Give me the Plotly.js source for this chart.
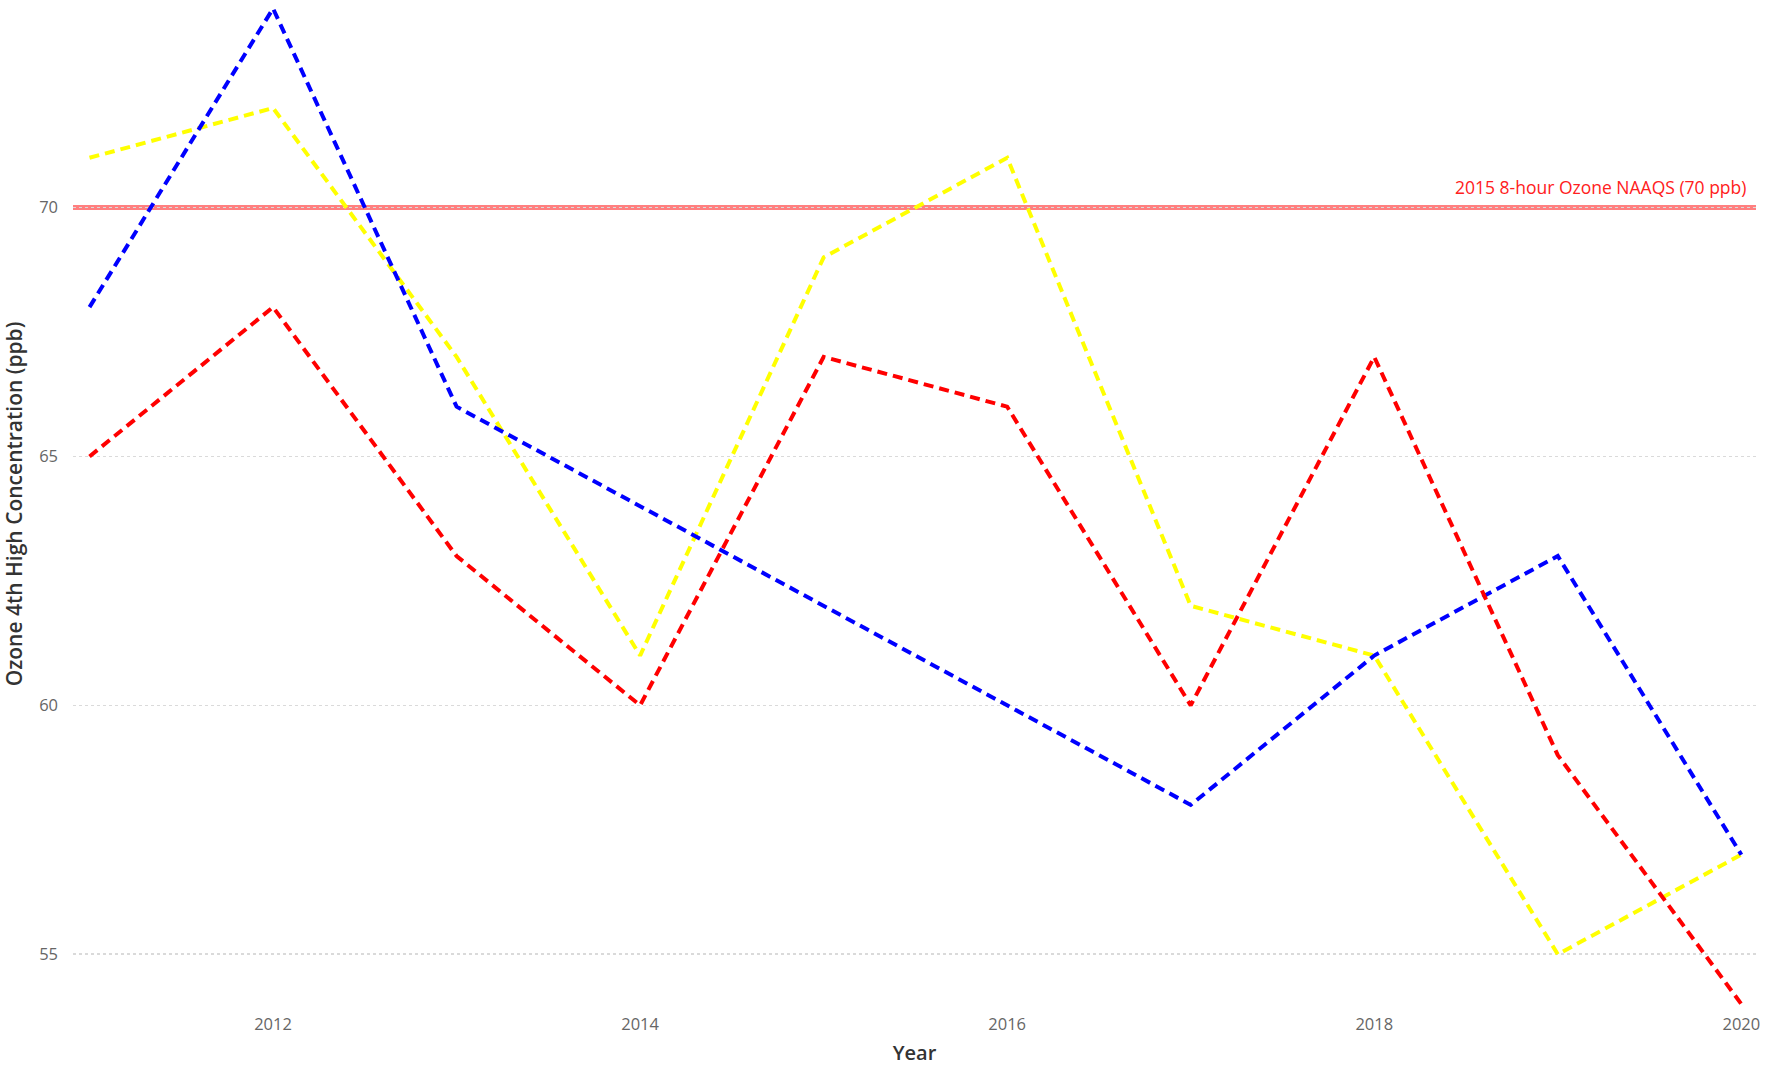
<!DOCTYPE html>
<html><head><meta charset="utf-8">
<script src="https://cdn.plot.ly/plotly-3.0.1.min.js"></script>
<style>html,body{margin:0;padding:0;background:#fff;}#chart{width:1781px;height:1066px;}</style>
</head><body><div id="chart"></div>
<script>
var years = [2011, 2012, 2013, 2014, 2015, 2016, 2017, 2018, 2019, 2020];
var yellowSeries = [71, 72, 67, 61, 69, 71, 62, 61, 55, 57];
var blueSeries = [68, 74, 66, 64, 62, 60, 58, 61, 63, 57];
var redSeries = [65, 68, 63, 60, 67, 66, 60, 67, 59, 54];
var standardValue = 70;
var standardLabel = '2015 8-hour Ozone NAAQS (70 ppb)';
var xTitle = 'Year';
var yTitle = 'Ozone 4th High Concentration (ppb)';

function mk(y, color, name) {
  return {x: years, y: y, type: 'scatter', mode: 'lines', name: name,
    line: {color: color, width: 4, dash: '10px,6px'}, hoverinfo: 'x+y'};
}
var data = [mk(yellowSeries, '#FFFF00', 'Yellow'), mk(blueSeries, '#0000FF', 'Blue'), mk(redSeries, '#FF0000', 'Red')];

var layout = {
  width: 1781, height: 1066,
  margin: {l: 73, r: 25, t: 0, b: 58},
  paper_bgcolor: '#fff', plot_bgcolor: '#fff',
  showlegend: false,
  font: {family: 'Open Sans, Noto Sans, sans-serif', color: '#666'},
  xaxis: {range: [2010.91, 2020.08], tickvals: [2012, 2014, 2016, 2018, 2020], ticktext: ['2012','2014','2016','2018','2020'],
    showgrid: false, zeroline: false, showline: false, ticks: '', ticklabelstandoff: 4,
    tickfont: {size: 16.5, color: '#666'},
    title: {text: xTitle, font: {size: 20, color: '#333', family: 'Open Sans, sans-serif', weight: 600}, standoff: 12}},
  yaxis: {range: [53.92, 74.17], tickvals: [55, 60, 65, 70], showgrid: true, gridcolor: '#dadada', griddash: 'dot', gridwidth: 1.5,
    zeroline: false, showline: false, ticks: '', ticklabelstandoff: 14,
    tickfont: {size: 16.5, color: '#666'},
    title: {text: yTitle, font: {size: 21, color: '#333', family: 'Open Sans, sans-serif', weight: 600}, standoff: 18}},
  shapes: [{type: 'line', xref: 'paper', x0: 0, x1: 1, yref: 'y', y0: standardValue, y1: standardValue,
    line: {color: 'rgba(255,0,0,0.5)', width: 5}, layer: 'between'}],
  annotations: [{xref: 'paper', x: 0.995, yref: 'y', y: standardValue, yshift: 21, xanchor: 'right', yanchor: 'middle',
    text: standardLabel, showarrow: false, font: {size: 17.5, color: '#FF2020', family: 'Open Sans, sans-serif'}}]
};
Plotly.newPlot('chart', data, layout, {displayModeBar: false, staticPlot: true});
</script></body></html>
